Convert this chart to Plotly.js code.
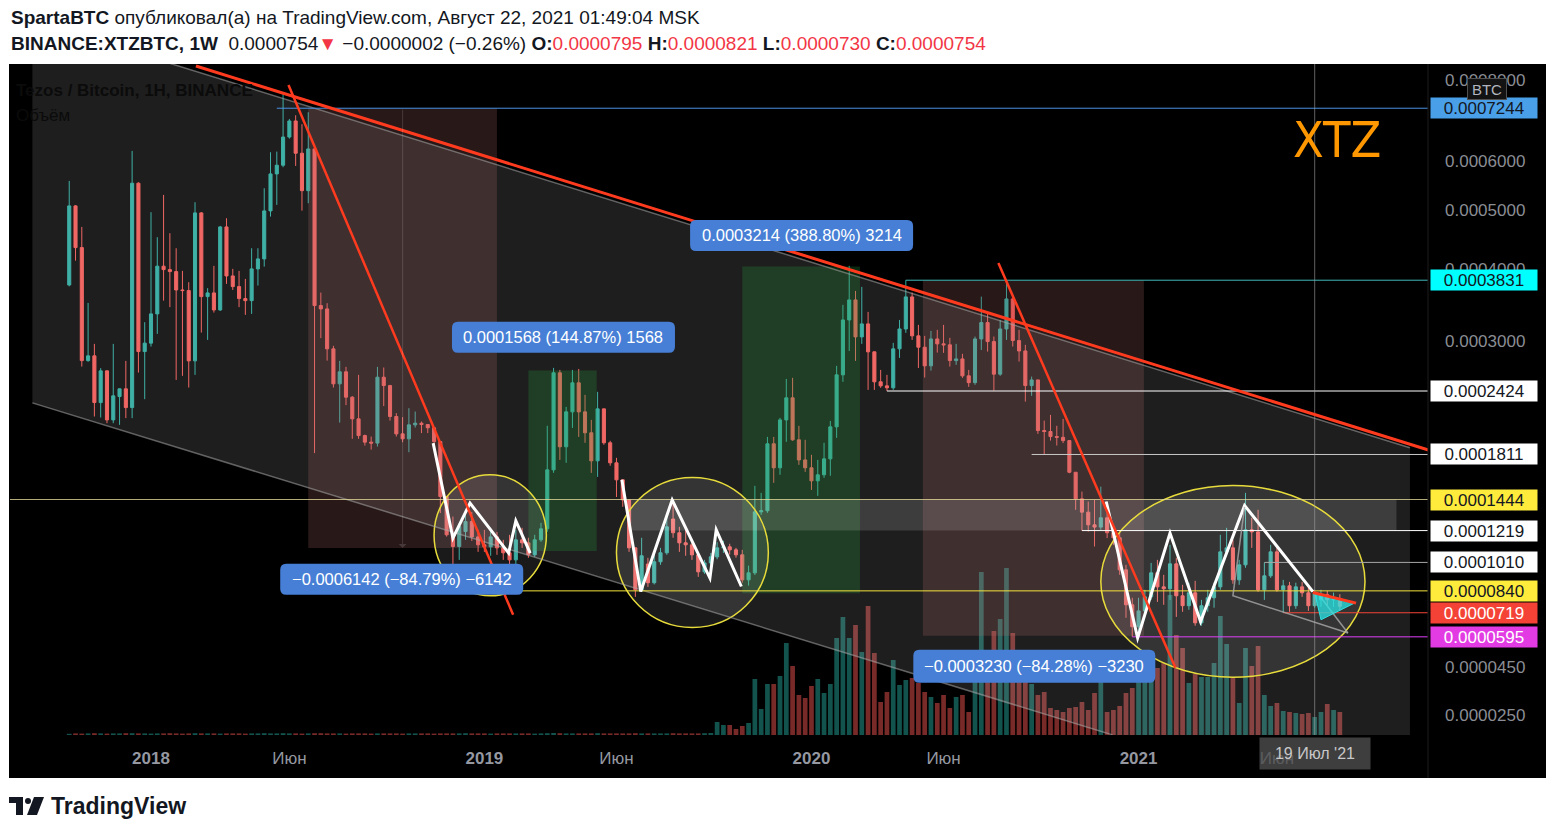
<!DOCTYPE html>
<html><head><meta charset="utf-8">
<script src="https://cdn.plot.ly/plotly-3.0.1.min.js"></script>
<style>html,body{margin:0;padding:0;background:#fff;}#chart{width:1555px;height:833px;}</style>
</head><body><div id="chart"></div>
<script>
// ---------------- DATA (weekly candles, prices in satoshi = 1e-8 BTC) ----------------
const firstWeek = '2017-10-02';
const openSat = [
37600,50860,43460,27630,28190,23030,26450,21300,23650,24470,
22520,55300,28700,29730,33510,40460,39930,39620,36870,36780,
27600,49550,35910,36440,34050,47010,38960,37360,35630,35340,
40040,41620,49920,57220,59060,65380,69240,61680,53810,62640,
34650,34190,29030,25010,26340,23590,21400,19810,19210,19120,
25740,24820,21630,19970,19510,20820,20980,20850,20540,19260,
14670,11900,11120,12130,12820,11760,11230,11100,11760,11030,
10710,10260,11560,11360,10580,11560,12310,16800,26230,18790,
22090,25120,22090,20070,17560,22390,19150,17390,15980,14410,
11030,8460,10000,8870,10140,10710,13000,12040,11360,11230,
10580,9520,10070,10450,11030,11100,10900,10580,9040,9460,
13520,13600,19060,16970,21300,23520,19420,17640,16970,15900,
16390,17730,20630,26000,32700,35440,30510,32180,28670,25230,
24790,24580,29030,31520,35870,30640,29230,27020,30250,29640,
29520,27630,27830,25890,25140,30250,32350,29920,26080,31520,
35580,30050,28780,24820,25440,20280,20190,19720,19650,19350,
16600,14490,13500,12590,12430,13090,12040,11700,9640,7620,
6460,7290,8060,9460,8630,8520,10010,8120,7570,8290,
6660,7570,8010,8630,10770,11030,9040,9950,12240,12100,
8460,9280,10770,8460,8690,7570,8630,8290,7570,7900,
8180,7900,7950];
const highSat = [
55770,51000,47010,35020,29640,26760,26500,29640,24500,27600,
62190,55500,32400,49680,45220,52970,45910,43360,39730,38010,
51560,49700,37130,40510,47190,48570,40040,39730,38510,43360,
43360,54290,61900,62040,76530,69740,70660,68440,71420,62800,
36490,34980,29400,27600,26910,23700,26000,19900,19720,26910,
26830,24900,21960,21570,22460,22120,21140,20870,20550,19270,
14680,13180,12710,13540,13520,12240,12240,12380,12100,11560,
11900,12240,12380,11700,11900,12730,20730,26790,26560,22590,
26560,26670,23830,21300,24150,22400,19330,17820,15990,14420,
11040,11700,10390,10580,11030,13160,14410,12450,12240,11560,
10710,10260,10700,11400,11500,11300,11030,10900,9900,15500,
14950,19690,19690,21500,25550,25670,20730,19420,18080,17640,
19150,21200,27020,34750,40510,36730,37320,33780,28700,26560,
26000,29760,32700,38310,36500,32050,30640,31270,31400,32050,
30390,29640,28430,26560,30550,35910,33650,30550,32700,38000,
36160,31400,29520,25810,25450,21230,21790,20730,21400,19360,
16610,15050,14280,14410,15440,13670,12590,12040,9950,8010,
8010,8460,10070,10260,9340,11230,10390,8750,8870,8980,
7890,8460,8870,11900,12380,11560,10260,14950,13090,13670,
10100,11230,11030,9040,8920,8870,8920,8570,8460,8460,
8400,8300,8210];
const lowSat = [
37400,41340,26940,27500,21630,21530,20980,20980,20820,21470,
21470,26260,23380,29310,30890,35340,34430,25440,25890,24610,
26000,31060,30130,33690,33900,37760,36870,34430,33380,33510,
37510,40400,48870,51050,58630,65000,58910,49970,51370,18230,
30350,27630,24610,21040,22770,19510,19510,18900,18540,18810,
22670,21230,19720,19200,18310,20560,20040,20040,18520,13430,
11780,9640,10260,11560,11490,10770,10770,10520,10580,10260,
9950,9830,11030,10390,10450,11430,12100,16550,17640,17390,
20530,19690,19150,16550,16220,18970,17140,14630,13890,10770,
8060,8340,8630,8770,9950,10580,11700,10770,10520,10260,
9220,9400,9950,10300,10700,10600,10400,8870,8700,9330,
13300,13450,15740,16390,19240,19330,17220,16630,15180,14720,
16140,16310,19600,25230,28780,27600,29640,24360,24360,24580,
24240,24360,27950,31020,30130,26780,25700,26480,28580,28550,
26940,27140,25670,24680,24900,28900,28700,24280,25890,30130,
29310,27520,23130,23730,19970,18110,19350,18900,19120,16520,
13670,12190,12120,11120,12240,11680,11230,9340,6920,5950,
6000,7080,7890,7780,7620,7890,6970,7240,7350,6510,
6510,7240,7460,8460,10580,8810,8750,9770,11030,8350,
7890,9160,8350,7190,7240,7400,8060,7290,7460,7510,
7600,7500,7300];
const closeSat = [
50860,43460,27630,28190,23030,26450,21300,23730,24470,22520,
55300,28700,29730,33510,40460,39930,39620,36870,36780,27600,
49550,35910,36440,34050,47010,38960,37360,35630,35340,40040,
41620,49920,57220,59060,65380,69240,61680,53810,62640,34650,
34190,29030,25010,26340,23590,21400,19810,19210,19120,25740,
24820,21630,19970,19510,20820,20980,20850,20540,19260,14670,
11900,11120,12470,12820,11760,11230,11100,11760,11030,10710,
10260,11560,11360,10580,11560,12310,16800,26230,18790,22090,
25120,22090,20070,17560,22390,19150,17390,15980,14410,11030,
8460,10520,8870,10140,10710,12450,12040,11360,11230,10580,
9520,10070,10450,11030,11100,10900,10580,9040,9460,13520,
13600,19060,16970,21300,23520,19420,17640,16970,15900,16390,
17730,20630,26000,32700,35440,30510,32180,28670,25230,24790,
24580,29030,31520,35870,30640,29230,27020,30250,29640,29520,
27630,27830,25890,25140,30250,32350,29920,26080,31520,35580,
30050,28780,24820,25440,20280,20190,19720,19650,19350,16600,
14490,13500,12590,12430,13090,12040,11700,9640,7620,6460,
7290,8060,9460,8630,8520,10010,8120,7570,8290,6660,
7570,8010,8630,10770,11030,9040,9950,12240,12100,8460,
9280,10770,8460,8690,7570,8630,8290,7570,8230,8180,
7900,7950,7540];
const volumeK = [
30,40,35,40,45,40,35,40,40,45,
45,40,40,35,40,40,45,40,35,40,
45,40,40,40,35,40,40,40,35,40,
40,45,40,40,45,40,40,35,40,45,
45,40,40,40,35,40,40,40,35,40,
40,40,40,35,40,40,40,40,35,40,
40,40,40,45,40,40,40,35,40,40,
40,40,40,40,35,40,45,50,45,40,
40,40,40,40,45,40,40,40,40,40,
45,40,40,40,40,40,45,40,40,40,
40,45,50,325,250,250,150,225,300,1400,
650,1275,1275,1475,2300,1725,1000,925,1225,1400,
1050,1275,2425,2950,2425,2750,2075,3225,2050,825,
1075,1875,1250,1375,1425,1300,1075,950,800,1000,
675,950,1000,575,1500,4075,1750,2600,2900,4175,
2550,1750,1750,1275,1000,1075,675,625,575,675,
700,825,625,1050,1625,575,625,725,1050,1175,
1700,1750,1700,1675,1800,3500,2500,2175,1300,1525,
1450,1450,1800,2975,2275,1425,800,2175,1725,2225,
1000,725,800,600,575,550,525,550,450,575,
775,625,575];

// axis ticks
const yTickPrices = [0.0008, 0.0006, 0.0005, 0.0004, 0.0003, 0.000045, 0.000025];
const yTickLabels = ['0.0008000','0.0006000','0.0005000','0.0004000','0.0003000','0.0000450','0.0000250'];
const xTickDates = ['2018-01-01','2018-06-04','2019-01-07','2019-06-03','2020-01-06','2020-06-01','2021-01-04','2021-06-07'];
const xTickLabels = ['<b>2018</b>','Июн','<b>2019</b>','Июн','<b>2020</b>','Июн','<b>2021</b>','Июн'];

// horizontal levels drawn on the chart (price, label, start date)
const levelPrices = [0.0007244, 0.0003831, 0.0002424, 0.0001811, 0.0001444, 0.0001219, 0.0001010, 0.0000840, 0.0000719, 0.0000595];
const levelLabels = ['0.0007244','0.0003831','0.0002424','0.0001811','0.0001444','0.0001219','0.0001010','0.0000840','0.0000719','0.0000595'];
const levelStarts = ['2018-05-21','2020-04-20','2020-03-30','2020-09-07','2017-01-01','2020-11-02','2021-05-24','2018-12-22','2021-06-14','2020-12-28'];

// price-range measurements: [start, end, low, high]
const lossRanges = [['2018-06-25','2019-01-21',0.0001102,0.0007244],['2020-05-09','2021-01-10',0.0000601,0.0003831]];
const gainRanges = [['2019-02-25','2019-05-12',0.0001082,0.000265],['2019-10-21','2020-02-29',0.0000827,0.0004041]];
const rangeLabels = ['−0.0006142 (−84.79%) −6142','−0.0003230 (−84.28%) −3230','0.0001568 (144.87%) 1568','0.0003214 (388.80%) 3214'];
const rangeLabelAnchors = [['2018-10-07',0.0000907],['2020-09-10',0.0000456],['2019-04-05',0.0003045],['2019-12-26',0.0004553]];
const band = ['2019-06-16','2021-10-18',0.0001219,0.0001444];
const ellipses = [['2018-11-12','2019-03-17',0.0000812,0.0001639],['2019-06-03','2019-11-19',0.0000642,0.0001617],['2020-11-23','2021-09-13',0.0000407,0.0001552]];
const zigzags = [
 [['2018-11-11',0.0001912],['2018-12-03',0.0001168],['2018-12-22',0.0001417],['2019-02-03',0.0001069],['2019-02-11',0.0001287],['2019-02-27',0.0001069]],
 [['2019-06-09',0.0001598],['2019-06-30',0.0000836],['2019-08-04',0.0001441],['2019-09-15',0.0000914],['2019-09-22',0.0001224],['2019-10-20',0.0000865]],
 [['2020-11-29',0.0001429],['2021-01-03',0.0000589],['2021-02-08',0.0001202],['2021-03-14',0.0000673],['2021-05-02',0.0001399],['2021-07-17',0.0000836]]
];
const channelUpper = [['2017-08-22',0.000982],['2021-11-02',0.000187]];
const channelLower = [['2017-08-22',0.00023],['2020-12-06',0.0000176]];
const channelRightBottom = ['2021-11-02',0.0000170];
const trendLines = [
 [['2018-02-20',0.00084],['2021-11-24',0.0001847]],
 [['2018-06-03',0.0007862],['2019-02-08',0.0000708]],
 [['2020-08-01',0.0004098],['2021-02-14',0.0000449]]
];
const flagGray = [['2021-05-02',0.0001389],['2021-04-19',0.0000812],['2021-08-25',0.0000614],['2021-07-25',0.0000808]];
const flagCyan = [['2021-07-19',0.0000829],['2021-07-26',0.0000682],['2021-09-02',0.0000773]];
const flagRed = [['2021-07-17',0.0000831],['2021-09-03',0.0000771]];
const crosshairDate = '2021-07-19';
const arrowDate = '2018-10-08';

// ---------------- BUILD ----------------
const T = p => Math.log10(p + 1e-4);   // TradingView log scale (price + offset)
const S = s => T(s * 1e-8);
const DAY = 86400000;
const t0 = Date.parse(firstWeek);
const dates = openSat.map((_, i) => new Date(t0 + i * 7 * DAY).toISOString().slice(0, 10));

const FONT = 'Liberation Sans, Arial, sans-serif';
const volColors = closeSat.map((c, i) => c >= openSat[i] ? 'rgba(38,166,154,0.5)' : 'rgba(239,83,80,0.5)');

const traces = [
 {type:'bar', x:dates, y:volumeK, yaxis:'y2', marker:{color:volColors, line:{width:0}}, hoverinfo:'skip'},
 {type:'candlestick', x:dates, open:openSat.map(S), high:highSat.map(S), low:lowSat.map(S), close:closeSat.map(S),
  increasing:{line:{color:'#26a69a',width:1}, fillcolor:'#26a69a'},
  decreasing:{line:{color:'#ef5350',width:1}, fillcolor:'#ef5350'},
  whiskerwidth:0, hoverinfo:'skip'}
];

const px2x = px => (px - 10) / 1418;
const px2y = py => (735 - py) / 671;
const pathOf = (pts, close) => pts.map((p, k) => (k ? 'L' : 'M') + p[0] + ',' + T(p[1])).join(' ') + (close ? ' Z' : '');
const roundRect = (w, h, r) => {
  const a = w / 2, b = h / 2;
  return `M${-a + r},${-b} L${a - r},${-b} Q${a},${-b} ${a},${-b + r} L${a},${b - r} Q${a},${b} ${a - r},${b} ` +
         `L${-a + r},${b} Q${-a},${b} ${-a},${b - r} L${-a},${-b + r} Q${-a},${-b} ${-a + r},${-b} Z`;
};

const shapes = [];
// chart background (black panel incl. time scale)
shapes.push({type:'rect', xref:'paper', yref:'paper', x0:px2x(9), x1:px2x(1546), y0:px2y(778), y1:1, fillcolor:'#000', line:{width:0}, layer:'below'});
// channel fill
shapes.push({type:'path', xref:'x', yref:'y', layer:'above', fillcolor:'rgba(255,255,255,0.118)', line:{width:0},
 path: pathOf([channelUpper[0], channelUpper[1], channelRightBottom, channelLower[1], channelLower[0]], true)});
// range boxes
lossRanges.forEach(r => shapes.push({type:'rect', xref:'x', yref:'y', layer:'above', x0:r[0], x1:r[1], y0:T(r[2]), y1:T(r[3]), fillcolor:'rgba(180,110,110,0.22)', line:{width:0}}));
gainRanges.forEach(r => shapes.push({type:'rect', xref:'x', yref:'y', layer:'above', x0:r[0], x1:r[1], y0:T(r[2]), y1:T(r[3]), fillcolor:'rgba(40,160,60,0.25)', line:{width:0}}));
shapes.push({type:'rect', xref:'x', yref:'y', layer:'above', x0:band[0], x1:band[1], y0:T(band[2]), y1:T(band[3]), fillcolor:'rgba(255,255,255,0.14)', line:{width:0}});
ellipses.forEach(e => shapes.push({type:'circle', xref:'x', yref:'y', layer:'above', x0:e[0], x1:e[1], y0:T(e[2]), y1:T(e[3]), fillcolor:'rgba(255,255,255,0.1)', line:{color:'#e8dc3c', width:1.5}}));
// channel border lines
shapes.push({type:'line', xref:'x', yref:'y', layer:'above', x0:channelUpper[0][0], y0:T(channelUpper[0][1]), x1:channelUpper[1][0], y1:T(channelUpper[1][1]), line:{color:'rgba(170,170,170,0.55)', width:1.5}});
shapes.push({type:'line', xref:'x', yref:'y', layer:'above', x0:channelLower[0][0], y0:T(channelLower[0][1]), x1:channelLower[1][0], y1:T(channelLower[1][1]), line:{color:'rgba(170,170,170,0.55)', width:1.5}});
// level lines
const levelLine = ['#4a90e2','#3fb8b8','#ffffff','#c8c8c8','rgba(225,215,150,0.8)','#ffffff','#a8a8a8','#f5e33a','#f44336','#e040fb'];
levelPrices.forEach((p, k) => shapes.push({type:'line', xref:'x', yref:'y', layer:'above', x0:levelStarts[k], x1:'2022-12-31', y0:T(p), y1:T(p), line:{color:levelLine[k], width:1}}));
// crosshair
shapes.push({type:'line', xref:'x', yref:'paper', layer:'above', x0:crosshairDate, x1:crosshairDate, y0:px2y(735), y1:1, line:{color:'rgba(160,160,160,0.6)', width:1}});
// zigzags
zigzags.forEach(z => shapes.push({type:'path', xref:'x', yref:'y', layer:'above', path:pathOf(z,false), line:{color:'#ffffff', width:3}}));
// flag
shapes.push({type:'path', xref:'x', yref:'y', layer:'above', path:pathOf(flagGray.slice(0,3),false), line:{color:'rgba(170,170,170,0.8)', width:1.5}});
shapes.push({type:'path', xref:'x', yref:'y', layer:'above', path:pathOf([flagGray[3], flagGray[2]],false), line:{color:'rgba(170,170,170,0.8)', width:1.5}});
shapes.push({type:'path', xref:'x', yref:'y', layer:'above', path:pathOf(flagCyan,true), fillcolor:'rgba(40,230,230,0.75)', line:{color:'#30e0e0', width:1}});
shapes.push({type:'path', xref:'x', yref:'y', layer:'above', path:pathOf(flagRed,false), line:{color:'#ff3b1f', width:3}});
// trend lines
trendLines.forEach((l, k) => shapes.push({type:'line', xref:'x', yref:'y', layer:'above', x0:l[0][0], y0:T(l[0][1]), x1:l[1][0], y1:T(l[1][1]), line:{color:'#ff3b1f', width:k === 0 ? 3 : 2.5}}));
// rounded backgrounds of the range labels
const rlW = [243, 242, 223, 223], rlH = [31, 33, 31, 31];
rangeLabels.forEach((t, k) => shapes.push({type:'path', xref:'x', yref:'y', layer:'above', xsizemode:'pixel', ysizemode:'pixel',
 xanchor:rangeLabelAnchors[k][0], yanchor:T(rangeLabelAnchors[k][1]), path:roundRect(rlW[k], rlH[k], 6), fillcolor:'#477fd6', line:{width:0}}));
// price scale border
shapes.push({type:'line', xref:'paper', yref:'paper', x0:1, x1:1, y0:px2y(778), y1:1, line:{color:'#1c1c1c', width:1}});
// TradingView logo
shapes.push({type:'rect', xref:'paper', yref:'paper', x0:px2x(9), x1:px2x(23), y0:px2y(803), y1:px2y(797), fillcolor:'#131722', line:{width:0}});
shapes.push({type:'rect', xref:'paper', yref:'paper', x0:px2x(16), x1:px2x(23), y0:px2y(815), y1:px2y(797), fillcolor:'#131722', line:{width:0}});
shapes.push({type:'circle', xref:'paper', yref:'paper', x0:px2x(25), x1:px2x(31), y0:px2y(804), y1:px2y(798), fillcolor:'#131722', line:{width:0}});
shapes.push({type:'path', xref:'paper', yref:'paper', fillcolor:'#131722', line:{width:0},
 path:'M'+px2x(34)+','+px2y(797)+' L'+px2x(44)+','+px2y(797)+' L'+px2x(37)+','+px2y(815)+' L'+px2x(27)+','+px2y(815)+' Z'});

const ann = [];
// header
ann.push({xref:'paper', yref:'paper', x:px2x(9), y:px2y(18), xanchor:'left', yanchor:'middle', showarrow:false,
 text:'<b>SpartaBTC</b> опубликовал(а) на TradingView.com, Август 22, 2021 01:49:04 MSK', font:{family:FONT, size:19, color:'#131722'}});
const R = s => '<span style="color:#f23645">' + s + '</span>';
ann.push({xref:'paper', yref:'paper', x:px2x(9), y:px2y(43), xanchor:'left', yanchor:'middle', showarrow:false,
 text:'<b>BINANCE:XTZBTC, 1W</b>  0.0000754' + R('▼') + ' −0.0000002 (−0.26%) <b>O:</b>' + R('0.0000795') + ' <b>H:</b>' + R('0.0000821') + ' <b>L:</b>' + R('0.0000730') + ' <b>C:</b>' + R('0.0000754'),
 font:{family:FONT, size:19, color:'#131722'}});
// footer
ann.push({xref:'paper', yref:'paper', x:px2x(49), y:px2y(806), xanchor:'left', yanchor:'middle', showarrow:false,
 text:'<b>TradingView</b>', font:{family:FONT, size:23, color:'#131722'}});
// chart legend (almost black)
ann.push({xref:'paper', yref:'paper', x:px2x(14), y:px2y(90), xanchor:'left', yanchor:'middle', showarrow:false,
 text:'<b>Tezos / Bitcoin, 1H, BINANCE</b>', font:{family:FONT, size:17, color:'#0b0b0b'}});
ann.push({xref:'paper', yref:'paper', x:px2x(14), y:px2y(116), xanchor:'left', yanchor:'middle', showarrow:false,
 text:'Объём', font:{family:FONT, size:17, color:'#0b0b0b'}});
// XTZ
ann.push({xref:'paper', yref:'paper', x:px2x(1337), y:px2y(140), xanchor:'center', yanchor:'middle', showarrow:false,
 text:'XTZ', font:{family:'Liberation Sans Narrow, DejaVu Sans Condensed, Arial, sans-serif', size:50, color:'#ff9800'}});
// arrow in the first range
ann.push({xref:'x', yref:'y', axref:'x', ayref:'y', x:arrowDate, y:T(lossRanges[0][2]), ax:arrowDate, ay:T(lossRanges[0][3]),
 showarrow:true, arrowhead:1, arrowsize:1.3, arrowwidth:1, arrowcolor:'rgba(255,255,255,0.14)', text:''});
// range labels (text on the rounded shapes)
rangeLabels.forEach((t, k) => ann.push({xref:'x', yref:'y', x:rangeLabelAnchors[k][0], y:T(rangeLabelAnchors[k][1]), xanchor:'center', yanchor:'middle',
 showarrow:false, text:t, font:{family:FONT, size:16.5, color:'#ffffff'}}));
// price-scale labels
const lblBg = ['#4a9fe9','#00ffff','#ffffff','#ffffff','#ffeb3b','#ffffff','#ffffff','#ffeb3b','#f44336','#e33be3'];
const lblFg = ['#131722','#131722','#131722','#131722','#131722','#131722','#131722','#131722','#ffffff','#ffffff'];
levelPrices.forEach((p, k) => ann.push({xref:'paper', yref:'y', x:px2x(1484), y:T(p), xanchor:'center', yanchor:'middle', showarrow:false,
 text:levelLabels[k], width:104, height:18, borderpad:1, bgcolor:lblBg[k], font:{family:FONT, size:17, color:lblFg[k]}}));
// BTC badge
ann.push({xref:'paper', yref:'paper', x:px2x(1487), y:px2y(89), xanchor:'center', yanchor:'middle', showarrow:false,
 text:'BTC', width:36, height:18, borderpad:1, bgcolor:'#131313', bordercolor:'#505050', borderwidth:1, font:{family:FONT, size:15, color:'#b2b5be'}});
// crosshair time label
ann.push({xref:'x', yref:'paper', x:crosshairDate, y:px2y(753.5), xanchor:'center', yanchor:'middle', showarrow:false,
 text:"19 Июл '21", width:110, height:31, borderpad:0, bgcolor:'rgba(78,78,78,0.8)', font:{family:FONT, size:16, color:'#c8c8c8'}});

const layout = {
 width:1555, height:833, margin:{l:10, r:127, t:64, b:98},
 paper_bgcolor:'#ffffff', plot_bgcolor:'#000000', showlegend:false, bargap:0.25,
 xaxis:{type:'date', range:['2017-07-28 02:10','2021-11-22 02:24'], rangeslider:{visible:false}, showgrid:false, zeroline:false, showline:false,
  tickmode:'array', tickvals:xTickDates, ticktext:xTickLabels, ticks:'', ticklabelstandoff:11, tickfont:{family:FONT, size:17, color:'#9598a1'}, fixedrange:true},
 yaxis:{range:[T(0.00001757), T(0.00084584)], side:'right', showgrid:false, zeroline:false, showline:false,
  tickmode:'array', tickvals:yTickPrices.map(T), ticktext:yTickLabels, ticks:'', ticklabelstandoff:16, tickfont:{family:FONT, size:17, color:'#8a8d94'}, fixedrange:true},
 yaxis2:{overlaying:'y', range:[0, 16775], visible:false, fixedrange:true},
 shapes:shapes, annotations:ann
};
Plotly.newPlot('chart', traces, layout, {displayModeBar:false, staticPlot:true});
</script>
</body></html>
